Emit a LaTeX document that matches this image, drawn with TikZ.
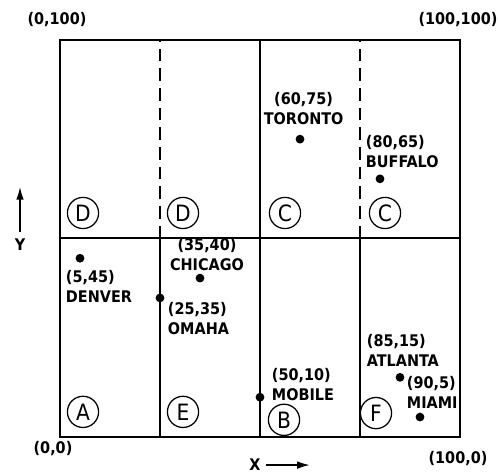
\documentclass[tikz,border=0pt]{standalone}
\usepackage{fontspec}
\setmainfont{DejaVu Sans Condensed}
\usetikzlibrary{arrows.meta}

\begin{document}
\begin{tikzpicture}[x=1mm, y=0.9925mm, line width=1.4pt,
    every node/.style={inner sep=0pt, font=\bfseries\fontsize{11.4}{14.2}\selectfont},
    city/.style={circle, fill, minimum size=2.2mm},
    cityname/.style={align=left, anchor=west},
    zone/.style={circle, draw, line width=0.9pt, minimum size=7.8mm, font=\mdseries\fontsize{16}{16}\selectfont},
    axisarrow/.style={-{Latex[length=3.2mm,width=1.9mm]}, line width=1.2pt}]
      \useasboundingbox (-15,-9.1) rectangle (109.5,110.05);
      \draw[line width=1.7pt] (0,0) rectangle (100,100);
      \draw (0,50) -- (100,50) (50,0) -- (50,100) (25,0) -- (25,50) (75,0) -- (75,50);
      \draw[dash pattern=on 9pt off 5pt] (25,50) -- (25,100) (75,50) -- (75,100);

      \node (topleft) at (-0.75,105) {(0,100)};
      \node (topright) at (99.5,105) {(100,100)};
      \node (origin) at (-1.75,-3) {(0,0)};
      \node (botright) at (99.5,-5.5) {(100,0)};

      \node[zone] (zoned1) at (5.75,56.4) {D};
      \node[zone] (zoned2) at (30.75,56.4) {D};
      \node[zone] (zonec1) at (56.25,56.4) {C};
      \node[zone] (zonec2) at (81.25,56.4) {C};
      \node[zone] (zonea) at (5.75,6.3) {A};
      \node[zone] (zonee) at (30.75,6.3) {E};
      \node[zone] (zoneb) at (56,4.3) {B};
      \node[zone] (zonef) at (79,6) {F};

      \node[city] (denver) at (5,45) {};
      \node[cityname] (denverlbl) at (1.25,38) {(5,45)\\DENVER};
      \node[city] (toronto) at (60,75) {};
      \node[align=center] (torontolbl) at (60.9,82.6) {(60,75)\\TORONTO};
      \node[city] (buffalo) at (80,65) {};
      \node[cityname] (buffalolbl) at (76.25,71.9) {(80,65)\\BUFFALO};
      \node[city] (chicago) at (35,40) {};
      \node[align=center] (chicagolbl) at (36.75,45.85) {(35,40)\\CHICAGO};
      \node[city] (omaha) at (25,35) {};
      \node[cityname] (omahalbl) at (26.75,29.7) {(25,35)\\OMAHA};
      \node[city] (mobile) at (50,10) {};
      \node[cityname] (mobilelbl) at (52.75,13.1) {(50,10)\\MOBILE};
      \node[city] (atlanta) at (85,15) {};
      \node[cityname] (atlantalbl) at (76.5,21.9) {(85,15)\\ATLANTA};
      \node[city] (miami) at (90,5) {};
      \node[cityname] (miamilbl) at (86.5,11.25) {(90,5)\\MIAMI};

      \node (xlbl) at (48.75,-7.1) {X};
      \coordinate (xtail) at (51.5,-7.1);
      \coordinate (xtip) at (62.5,-7.1);
      \draw[axisarrow] (xtail) -- (xtip);
      \node (ylbl) at (-10,48.4) {Y};
      \coordinate (ytail) at (-10,51.6);
      \coordinate (ytip) at (-10,63);
      \draw[axisarrow] (ytail) -- (ytip);
    \end{tikzpicture}
\end{document}
